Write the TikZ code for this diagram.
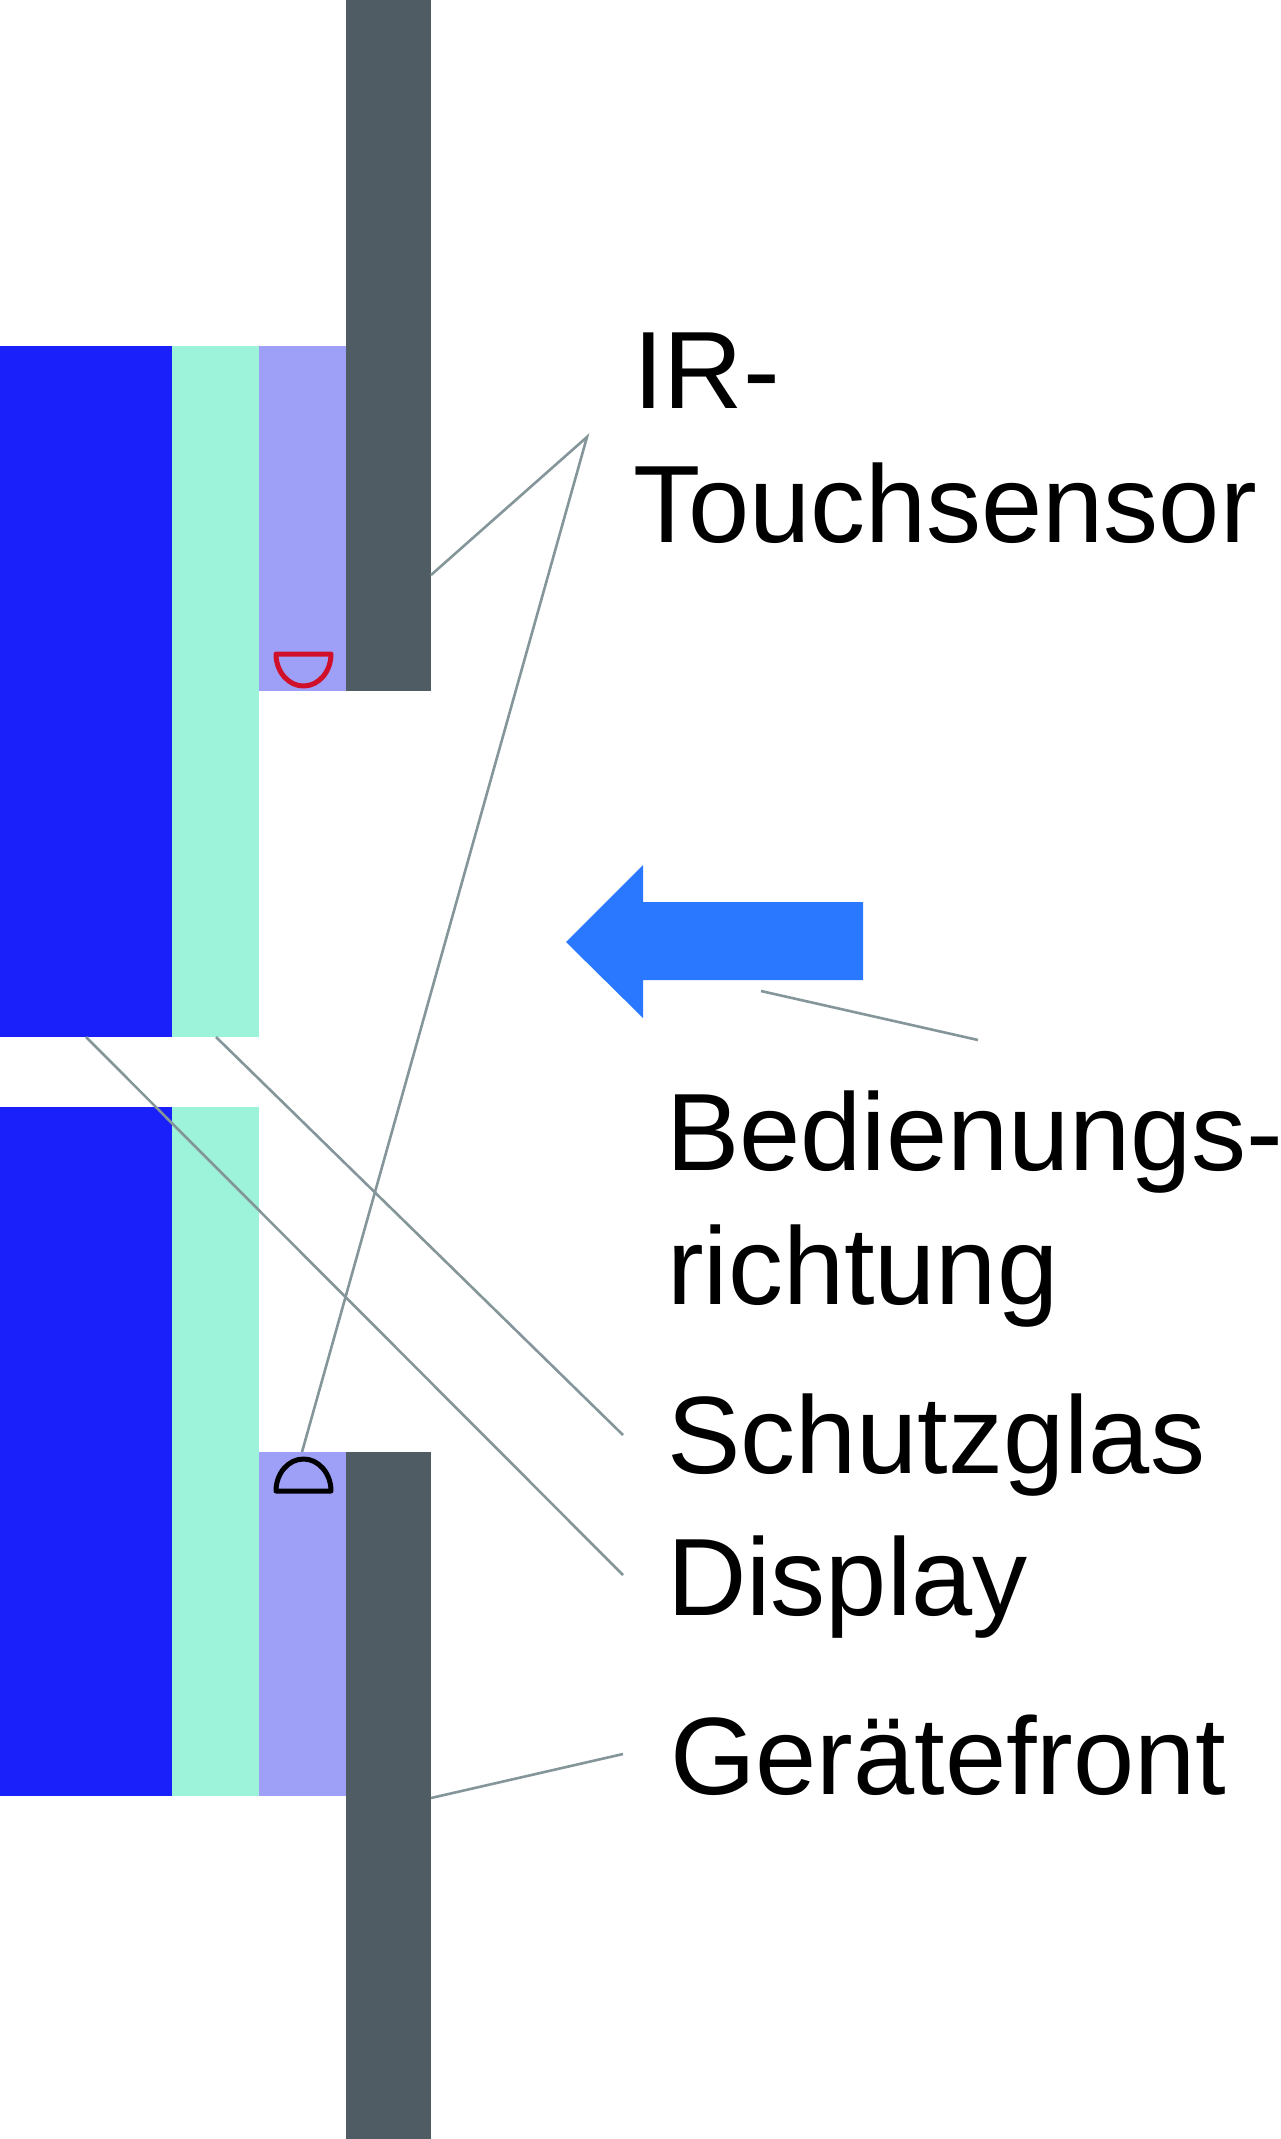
\documentclass[tikz,border=0pt]{standalone}
\usepackage{fontspec}
\setmainfont{Liberation Sans}
\definecolor{dispblue}{HTML}{1A20FA}
\definecolor{glasgreen}{HTML}{9CF3DA}
\definecolor{sensorlav}{HTML}{9DA0F6}
\definecolor{frontgrey}{HTML}{4F5C63}
\definecolor{arrowblue}{HTML}{2A78FF}
\definecolor{leadgrey}{HTML}{85969A}
\definecolor{sensorred}{HTML}{D0102A}
\tikzset{
  lbl/.style={anchor=base west,inner sep=0pt,outer sep=0pt,font=\fontsize{110}{110}\selectfont,text=black},
  leadline/.style={draw=leadgrey,line width=2.6pt},
  halfdisc/.style={line width=5pt,line join=round}
}
\begin{document}
\begin{tikzpicture}[x=1pt,y=-1pt]
\useasboundingbox (0,0) rectangle (1280,2139);
\fill[white] (0,0) rectangle (1280,2139);
% upper part
\fill[dispblue] (0,346) rectangle (172,1037);
\fill[glasgreen] (172,346) rectangle (259,1037);
\fill[sensorlav] (259,346) rectangle (346,691);
\fill[frontgrey] (346,0) rectangle (431,691);
% lower part
\fill[dispblue] (0,1107) rectangle (172,1796);
\fill[glasgreen] (172,1107) rectangle (259,1796);
\fill[sensorlav] (259,1452) rectangle (346,1796);
\fill[frontgrey] (346,1452) rectangle (431,2139);
% sensors
\draw[halfdisc,sensorred] (276,654) -- (331,654) arc[start angle=0,end angle=-180,x radius=27.5,y radius=-32] -- cycle;
\draw[halfdisc,black] (276,1491) -- (331,1491) arc[start angle=0,end angle=180,x radius=27.5,y radius=-32] -- cycle;
% arrow
\fill[arrowblue] (566,942) -- (643,865) -- (643,902) -- (863,902) -- (863,980) -- (643,980) -- (643,1018) -- cycle;
% anchors of the leaders
\coordinate (apex) at (587,437);
\coordinate (frontTop) at (431,575);
\coordinate (sensorLow) at (302,1452);
\coordinate (arrowFoot) at (761,991);
\coordinate (arrowLead) at (978,1040);
\coordinate (glasTop) at (216,1037);
\coordinate (glasLead) at (623,1435);
\coordinate (dispTop) at (86,1037);
\coordinate (dispLead) at (623,1575);
\coordinate (frontLow) at (431,1798);
\coordinate (frontLead) at (623,1754);
\draw[leadline] (frontTop) -- (apex) -- (sensorLow);
\draw[leadline] (arrowFoot) -- (arrowLead);
\draw[leadline] (glasTop) -- (glasLead);
\draw[leadline] (dispTop) -- (dispLead);
\draw[leadline] (frontLow) -- (frontLead);
% labels
\node[lbl] (ir) at (633,408) {IR-};
\node[lbl] (touch) at (633,542) {Touchsensor};
\node[lbl] (bed) at (666,1170) {Bedienungs-};
\node[lbl] (richt) at (667,1304) {richtung};
\node[lbl] (schutz) at (667,1473) {Schutzglas};
\node[lbl] (disp) at (667,1615) {Display};
\node[lbl] (geraet) at (670,1794) {Gerätefront};
\end{tikzpicture}
\end{document}
